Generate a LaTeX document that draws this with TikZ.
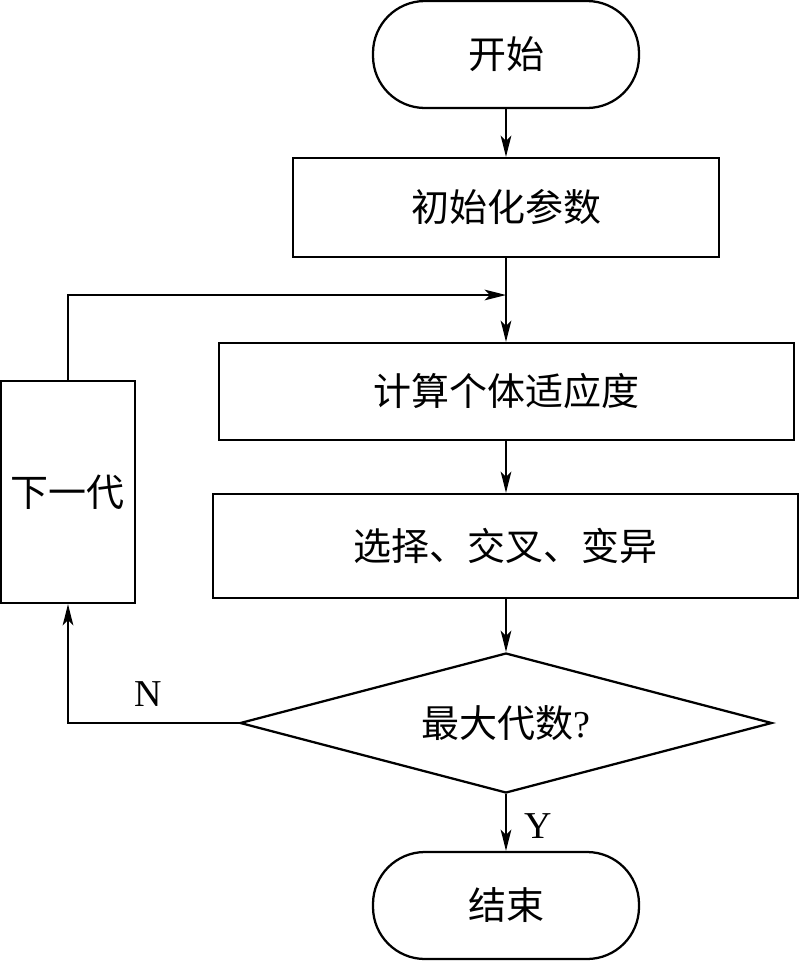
\documentclass[tikz,border=0pt]{standalone}
\usepackage{fontspec}
\setmainfont{Liberation Serif}
\newfontfamily\cjk{Noto Sans CJK SC}
\usetikzlibrary{shapes.geometric,arrows.meta}
\def\u{0.75pt}
\tikzset{
  every node/.style={font=\fontsize{28.5pt}{32pt}\selectfont},
  base/.style={draw, line width=1.7pt, inner sep=0pt, align=center},
  term/.style={base, rounded corners=52*\u, minimum width=266*\u, minimum height=107*\u},
  proc/.style={base, rectangle},
  dec/.style={base, diamond, aspect=3.8},
  conn/.style={line width=1.7pt, -{Stealth[length=16pt, width=8pt, inset=4pt]}},
  lbl/.style={inner sep=0pt}
}
\begin{document}
\begin{tikzpicture}[x=\u, y=-\u]
\useasboundingbox (0,0) rectangle (800,961);
\node[term] (start) at (506,54.5) {\cjk 开始};
\node[proc, minimum width=426*\u, minimum height=99*\u] (init) at (506,207.5) {\cjk 初始化参数};
\node[proc, minimum width=575*\u, minimum height=97*\u] (calc) at (506.5,391.5) {\cjk 计算个体适应度};
\node[proc, minimum width=585*\u, minimum height=104*\u] (sel) at (505.5,546) {\cjk 选择、交叉、变异};
\node[dec, minimum width=532*\u, minimum height=140*\u] (dec) at (506,723) {{\cjk 最大代数}?};
\node[term] (end) at (506,905.5) {\cjk 结束};
\node[proc, minimum width=134*\u, minimum height=222*\u] (next) at (68,492) {\cjk 下一代};
\coordinate (j) at (506,295);
\node[lbl] (N) at (148,694) {N};
\node[lbl] (Y) at (538,826) {Y};
\draw[conn] (start.south) -- (start.south |- init.north);
\draw[conn] (init.south) -- (init.south |- calc.north);
\draw[conn] (calc.south -| init.south) -- (init.south |- sel.north);
\draw[conn] (sel.south -| init.south) -- (dec.north);
\draw[conn] (dec.south) -- (end.north);
\draw[conn] (dec.west) -| (next.south);
\draw[conn] (next.north) |- (j);
\end{tikzpicture}
\end{document}
